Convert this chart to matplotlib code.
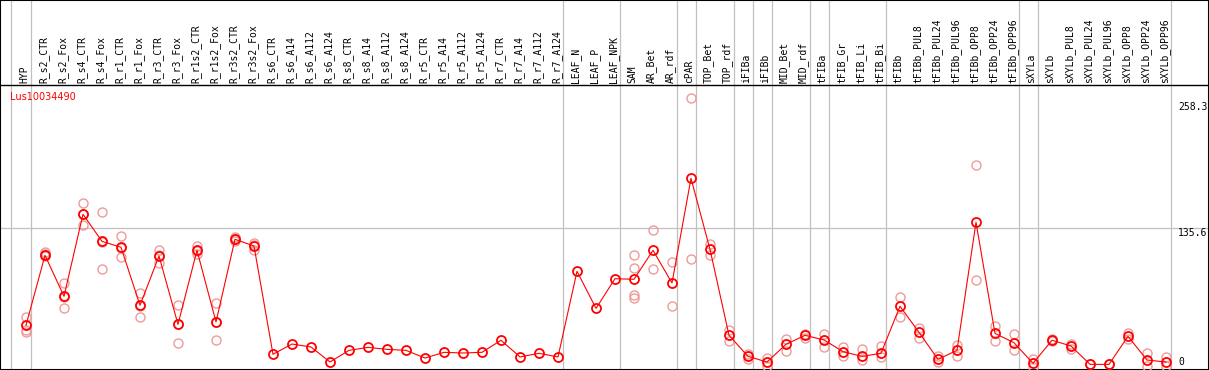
import matplotlib.pyplot as plt
import matplotlib.transforms as mtransforms
import numpy as np

gene = "Lus10034490"

samples = ["HYP", "R_s2_CTR", "R_s2_Fox", "R_s4_CTR", "R_s4_Fox", "R_r1_CTR",
           "R_r1_Fox", "R_r3_CTR", "R_r3_Fox", "R_r1s2_CTR", "R_r1s2_Fox",
           "R_r3s2_CTR", "R_r3s2_Fox", "R_s6_CTR", "R_s6_A14", "R_s6_A112",
           "R_s6_A124", "R_s8_CTR", "R_s8_A14", "R_s8_A112", "R_s8_A124",
           "R_r5_CTR", "R_r5_A14", "R_r5_A112", "R_r5_A124", "R_r7_CTR",
           "R_r7_A14", "R_r7_A112", "R_r7_A124", "LEAF_N", "LEAF_P", "LEAF_NPK",
           "SAM", "AR_Bet", "AR_rdf", "cPAR", "TOP_Bet", "TOP_rdf", "iFIBa",
           "iFIBb", "MID_Bet", "MID_rdf", "tFIBa", "tFIB_Gr", "tFIB_Li",
           "tFIB_Bi", "tFIBb", "tFIBb_PUL8", "tFIBb_PUL24", "tFIBb_PUL96",
           "tFIBb_OPP8", "tFIBb_OPP24", "tFIBb_OPP96", "sXYLa", "sXYLb",
           "sXYLb_PUL8", "sXYLb_PUL24", "sXYLb_PUL96", "sXYLb_OPP8",
           "sXYLb_OPP24", "sXYLb_OPP96"]

mean_expr = [37.1, 108, 66.5, 149.5, 122.1, 116.1, 57.4, 107.3, 38.1, 113, 40.5,
             124.2, 117.4, 7.8, 18.2, 15.2, 0, 11.8, 14.8, 12.8, 11.8,
             4.0, 9.8, 9.1, 9.8, 22, 5.1, 8.8, 5.1, 91.8, 54.3, 84.3,
             83.7, 113, 80, 185.9, 114, 27, 5.7, 0, 17.9, 27,
             22.3, 10.5, 5.7, 8.8, 56.4, 30, 2.7, 11.8, 141.4, 29,
             19.5, -1.3, 22, 16.2, -2.4, -2.4, 26, 2, 0]

# replicate values (light circles)
rep_expr = [[45.9, 32.4, 30.7], [111.6, 109.3, 107], [79.6, 54.7, 66],
            [160.6, 138.3, 149.5], [151.5, 93.8, 121], [127.5, 106, 115],
            [69.5, 45.5, 57], [113.4, 100.5, 108], [57.4, 18.9, 38],
            [117.7, 109.3, 112], [59.4, 22, 40], [126.8, 124.2, 122],
            [120.8, 113.4, 118],
            [], [], [], [], [], [], [], [], [], [], [], [], [], [], [], [],
            [], [], [],
            [108, 94.8, 67.8, 64.5], [133.3, 93.8], [101.5, 56.4],
            [266.9, 103.9], [119.4, 108.6], [32.4, 20.9], [8.1, 3.4],
            [3.7, -4], [23.6, 11.5], [28.3, 24.6], [28.3, 15.5], [15.5, 6.1],
            [13.5, 2], [16.2, 4.7], [65.5, 45.9], [34.7, 24.6], [6.1, 0.3],
            [16.9, 5.7], [199.1, 82.7], [36.7, 20.9], [28, 11.8], [2.7, -5.4],
            [23, 21], [18.5, 12.8], [-2.4], [-2.4], [29.4, 23.3], [9.1, -4],
            [5.4, -4]]

group_ends = [-1.05, 0, 28, 31, 34, 35, 37, 38, 39, 41, 42, 45, 52, 53, 60]
ytick_vals = [258.3, 135.6, 0]
ytick_labels = ["258.3", "135.6", "0"]

W, H = 1209, 370
fig = plt.figure(figsize=(W / 100, H / 100), dpi=100)
ax = fig.add_axes([0, 0, 1, 1])

x0_px, step_px = 26, 19
zero_px, px_per_unit = 362, 0.988
header_px = 85
ax.set_xlim(-x0_px / step_px, (W - x0_px) / step_px)
ax.set_ylim(-(H - zero_px) / px_per_unit, zero_px / px_per_unit)
ax.set_xticks([])
ax.set_yticks([])
for sp in ax.spines.values():
    sp.set_color("black")
    sp.set_linewidth(1.5)

grid_c = "#c0c0c0"
for g in group_ends:
    ax.axvline(g + 0.25, color=grid_c, lw=0.9, zorder=1)
ax.axhline(135.6, color=grid_c, lw=0.9, zorder=1)

hdr = 1 - header_px / H
ax.plot([0, 1], [hdr, hdr], transform=ax.transAxes, color="black", lw=1.0, zorder=2)

blend = mtransforms.blended_transform_factory(ax.transData, ax.transAxes)
for i, s in enumerate(samples):
    ax.text(i - 0.08, hdr + 2 / H, s, rotation=90, ha="center", va="bottom",
            family="DejaVu Sans Mono", fontsize=7, transform=blend)

yblend = mtransforms.blended_transform_factory(ax.transAxes, ax.transData)
ax.text(10 / W, (zero_px - 97) / px_per_unit, gene, color="red", fontsize=7,
        va="center", ha="left", transform=yblend)

for v, lab in zip(ytick_vals, ytick_labels):
    va = "top" if v == 135.6 else "center"
    ax.text(1178 / W, v, lab, family="DejaVu Sans Mono", fontsize=7,
            ha="left", va=va, transform=yblend)

for i, reps in enumerate(rep_expr):
    if reps:
        ax.plot([i] * len(reps), reps, "o", mfc="none", mec="#ef9a9a", ms=6.5,
                mew=1.0, zorder=3)

ax.plot(range(len(samples)), mean_expr, "-", color="red", lw=0.8, marker="o",
        mfc="none", mec="red", ms=6.5, mew=1.3, zorder=4)

fig.savefig("out.png", dpi=100)
